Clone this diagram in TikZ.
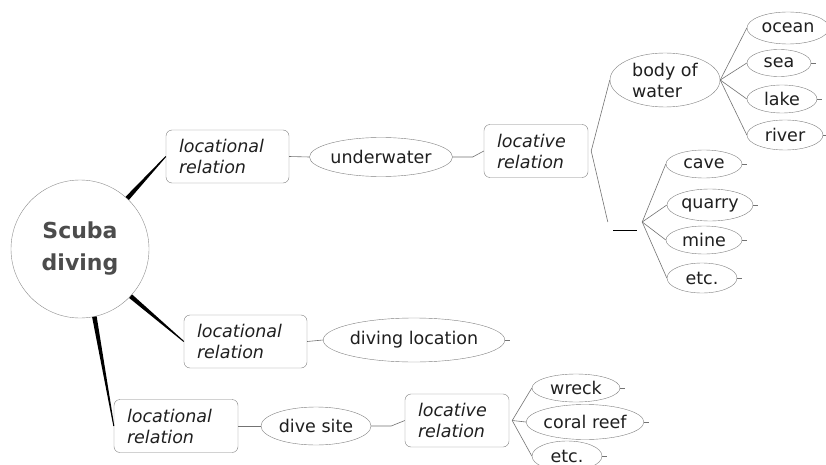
\documentclass[tikz,border=0pt]{standalone}
\usepackage{fontspec}
\setmainfont{DejaVu Sans}
\usetikzlibrary{shapes.geometric,calc}

% tapered branch from the central topic: wide at the start, thin at the end
\newcommand\taperlink[3]{%
  \fill[black] ($(#1)!#3!90:(#2)$) -- ($(#1)!#3!-90:(#2)$)
    -- ($(#2)!0.5pt!90:(#1)$) -- ($(#2)!0.5pt!-90:(#1)$) -- cycle;}

\begin{document}
\begin{tikzpicture}[x=1pt,y=-1pt,
  lbl/.style={font=\fontsize{17.5}{21}\selectfont, text=black!88},
  rbox/.style={draw=black!50, rounded corners=6pt, text=black!88,
    font=\fontsize{17.5}{21}\selectfont\itshape, align=left,
    inner xsep=13pt, inner ysep=0pt, minimum height=53pt},
  ell/.style={lbl, ellipse, draw=black!50, inner sep=0pt},
  link/.style={draw=black!55, line width=0.6pt}
]
\fill[white] (0,0) rectangle (826,465);
\useasboundingbox (0,0) rectangle (826,465);

% central topic
\node[circle, draw=black!45, minimum size=138pt, inner sep=0pt,
  font=\fontsize{22}{32}\selectfont\bfseries, text=black!70, align=center]
  (scuba) at (80,249) {Scuba\\diving};

% relation boxes
\node[rbox, text width=97pt] (rel1) at (227.5,156.5) {locational\\relation};
\node[rbox, text width=97pt] (rel2) at (245.5,341.5) {locational\\relation};
\node[rbox, text width=98pt] (rel3) at (176,426) {locational\\relation};
\node[rbox, text width=78pt] (loc1) at (536,151) {locative\\relation};
\node[rbox, text width=78pt] (loc2) at (457,420.5) {locative\\relation};

% topics
\node[ell, minimum width=138pt, minimum height=39pt] (under) at (381,157) {underwater};
\node[ell, minimum width=110pt, minimum height=54pt, align=left,
  font=\fontsize{17.5}{22}\selectfont] (body) at (665,80) {body of\\[-1pt]water};
\node[ell, minimum width=82pt, minimum height=32pt] (ocean) at (788,28) {ocean};
\node[ell, minimum width=64pt, minimum height=27pt] (sea) at (779,63) {sea};
\node[ell, minimum width=70pt, minimum height=28pt] (lake) at (782,99) {lake};
\node[ell, minimum width=76pt, minimum height=30pt] (river) at (785,135) {river};

\node[minimum width=34pt, minimum height=16pt, inner sep=0pt] (blank) at (625,222) {};
\draw[black, line width=1pt] ([xshift=-12pt]blank.south) -- ([xshift=12pt]blank.south);

\node[ell, minimum width=76pt, minimum height=28pt] (cave) at (704,164) {cave};
\node[ell, minimum width=86pt, minimum height=32pt] (quarry) at (710,205) {quarry};
\node[ell, minimum width=76pt, minimum height=28pt] (mine) at (704,240) {mine};
\node[ell, minimum width=70pt, minimum height=30pt] (etcA) at (702,278) {etc.};

\node[ell, minimum width=168pt, minimum height=44pt] (divloc) at (414,340) {diving location};
\node[ell, minimum width=110pt, minimum height=38pt] (site) at (316,426) {dive site};
\node[ell, minimum width=88pt, minimum height=28pt] (wreck) at (576,388) {wreck};
\node[ell, minimum width=106pt, minimum height=35pt] (reef) at (585,422) {coral reef};
\node[ell, minimum width=70pt, minimum height=30pt] (etcB) at (567,456) {etc.};

% main branches
\taperlink{scuba.47}{rel1.west}{2.3pt}
\taperlink{scuba.-43}{rel2.west}{2.3pt}
\taperlink{scuba.-78}{rel3.west}{2.3pt}

% connectors
\draw[link] (rel1.east) -- (under.west);
\draw[link] (under.east) -- ++(20,0) -- (loc1.west);
\draw[link] ([xshift=3pt]loc1.east) -- (body.west);
\draw[link] ([xshift=3pt]loc1.east) -- (blank.west);
\foreach \t in {ocean,sea,lake,river} \draw[link] (body.east) -- (\t.west);
\foreach \t in {cave,quarry,mine,etcA} \draw[link] (blank.east) -- (\t.west);

\draw[link] (rel2.east) -- (divloc.west);
\draw[link] (rel3.east) -- (site.west);
\draw[link] (site.east) -- ++(20,0) -- (loc2.west);
\foreach \t in {wreck,reef,etcB} \draw[link] ([xshift=3pt]loc2.east) -- (\t.west);

% collapse stubs on leaf topics
\foreach \t in {sea,lake,river,cave,quarry,mine,etcA,divloc,wreck,reef,etcB}
  \draw[link] (\t.east) -- ++(5,0);
\end{tikzpicture}
\end{document}
